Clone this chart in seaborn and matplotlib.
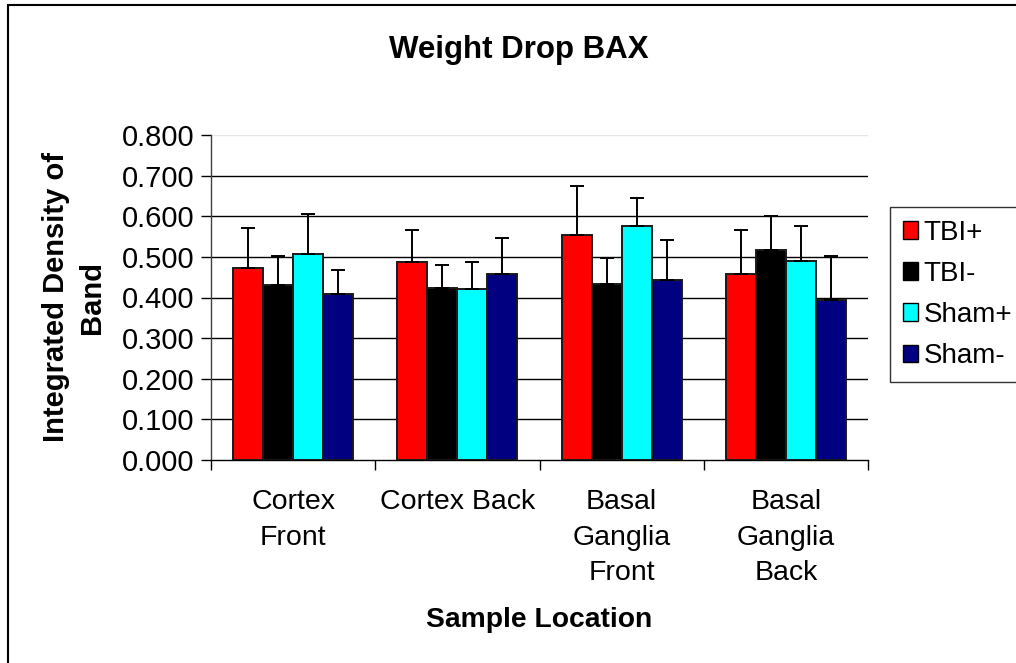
import matplotlib
matplotlib.use("Agg")
import matplotlib.pyplot as plt
import seaborn as sns
import pandas as pd
import numpy as np
from matplotlib.patches import Rectangle

categories = ["Cortex\nFront", "Cortex Back", "Basal\nGanglia\nFront", "Basal\nGanglia\nBack"]
groups = ["TBI+", "TBI-", "Sham+", "Sham-"]
tbi_pos = [0.472, 0.487, 0.555, 0.457]
tbi_neg = [0.430, 0.423, 0.434, 0.518]
sham_pos = [0.506, 0.422, 0.575, 0.491]
sham_neg = [0.409, 0.458, 0.443, 0.394]
err_tbi_pos = [0.099, 0.080, 0.119, 0.110]
err_tbi_neg = [0.072, 0.058, 0.063, 0.082]
err_sham_pos = [0.099, 0.065, 0.070, 0.085]
err_sham_neg = [0.059, 0.088, 0.098, 0.108]
colors = ["#FF0000", "#000000", "#00FFFF", "#000080"]
yticks = [0.0, 0.1, 0.2, 0.3, 0.4, 0.5, 0.6, 0.7, 0.8]

values = [tbi_pos, tbi_neg, sham_pos, sham_neg]
errors = [err_tbi_pos, err_tbi_neg, err_sham_pos, err_sham_neg]
rows = []
for g, vals, errs in zip(groups, values, errors):
    for c, v, e in zip(categories, vals, errs):
        rows.append({"Location": c, "Group": g, "Value": v, "Err": e})
df = pd.DataFrame(rows)

sns.set_theme(style="white")
plt.rcParams['font.family'] = ['Liberation Sans', 'DejaVu Sans']
plt.rcParams['text.color'] = 'black'
plt.rcParams['xtick.color'] = 'black'
plt.rcParams['ytick.color'] = 'black'
plt.rcParams['axes.labelcolor'] = 'black'

W, H = 1016, 663
fig = plt.figure(figsize=(W / 100, H / 100), dpi=100)
ax = fig.add_axes([211 / W, 1 - 460 / H, (868 - 211) / W, (460 - 135) / H])

sns.barplot(data=df, x="Location", y="Value", hue="Group", order=categories,
            hue_order=groups, palette=colors, width=0.73, errorbar=None,
            edgecolor="#1a1a1a", linewidth=1.4, saturation=1, ax=ax, zorder=3)

# error bars (upper only) at the bar centres
for gi, g in enumerate(groups):
    cont = ax.containers[gi]
    for bi, bar in enumerate(cont):
        xc = bar.get_x() + bar.get_width() / 2
        top = bar.get_height()
        ax.errorbar([xc], [top], yerr=[[0], [errors[gi][bi]]], fmt="none",
                    ecolor="black", elinewidth=1.4, capsize=4.7, capthick=1.4, zorder=4)

ax.set_ylim(0, 0.8)
ax.set_xlim(-0.5, 3.5)
ax.set_yticks(yticks)
ax.set_yticklabels([f"{t:.3f}" for t in yticks], fontsize=21)
for t in yticks[1:-1]:
    ax.axhline(t, color="black", lw=1.0, zorder=1)
ax.axhline(0.8, color="#e6e6e6", lw=1.0, zorder=1)

ax.set_xticks([-0.5, 0.5, 1.5, 2.5, 3.5])
ax.set_xticklabels([])
ax.set_xticks(range(len(categories)), minor=True)
ax.set_xticklabels(categories, minor=True, fontsize=20.5, linespacing=1.47, va="top")
ax.tick_params(axis="x", which="major", direction="out", length=7, width=1, color="black", bottom=True)
ax.tick_params(axis="x", which="minor", length=0, pad=21)
ax.tick_params(axis="y", which="major", direction="out", length=7, width=1, color="black", left=True, pad=5)

for s in ["top", "right"]:
    ax.spines[s].set_visible(False)
ax.spines["left"].set_color("#404040")
ax.spines["left"].set_linewidth(1.0)
ax.spines["bottom"].set_color("black")
ax.spines["bottom"].set_linewidth(1.0)

ax.set_xlabel("")
ax.set_ylabel("")
fig.text(0.5 * (211 + 868) / W, 1 - 620 / H, "Sample Location", ha="center", va="center",
         fontsize=20.3, fontweight="bold")
fig.text(74 / W, 1 - 297 / H, "Integrated Density of\nBand", ha="center", va="center",
         rotation=90, fontsize=21, fontweight="bold", linespacing=1.4)
fig.text(519 / W, 1 - 50 / H, "Weight Drop BAX", ha="center", va="center",
         fontsize=22.5, fontweight="bold")

ax.get_legend().remove()
handles = [Rectangle((0, 0), 1, 1, facecolor=c, edgecolor="black", lw=1.0) for c in colors]
leg = fig.legend(handles, groups, loc="upper left", bbox_to_anchor=(890 / W, 1 - 207 / H),
                 frameon=True, fontsize=20, handlelength=0.55, handleheight=0.6,
                 handletextpad=0.2, labelspacing=0.55, borderpad=0.45, borderaxespad=0,
                 fancybox=False)
leg.get_frame().set_edgecolor("black")
leg.get_frame().set_linewidth(1.0)

fig.patches.append(Rectangle((8 / W, -0.1), 1.2, 1 - 5 / H + 0.1, transform=fig.transFigure,
                             fill=False, edgecolor="black", lw=1.5, zorder=0))

fig.savefig("out.png", dpi=100)
